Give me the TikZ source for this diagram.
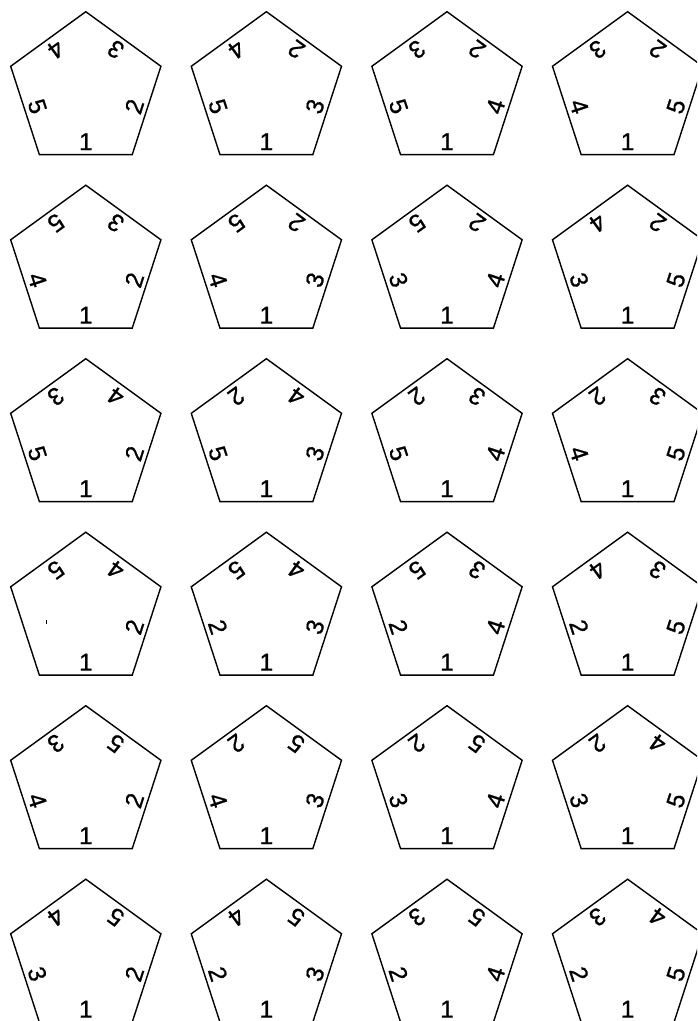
\documentclass[tikz,border=0pt]{standalone}
\usepackage{fontspec}
\setmainfont{Liberation Sans}
\newfontfamily\digfont[FakeBold=0.8]{Liberation Sans}
\begin{document}
\begin{tikzpicture}[x=1pt,y=1pt,
  edge/.style={line width=1.4pt, line join=miter},
  lab/.style={font=\digfont\fontsize{24.5}{28}\selectfont, inner sep=0pt}]
\useasboundingbox (0,0) rectangle (697,-1021);
\clip (0,0) rectangle (697,-1021);
\foreach \r/\c/\a/\b/\e/\f [count=\i] in {
  1/1/2/3/4/5, 1/2/3/2/4/5, 1/3/4/2/3/5, 1/4/5/2/3/4,
  2/1/2/3/5/4, 2/2/3/2/5/4, 2/3/4/2/5/3, 2/4/5/2/4/3,
  3/1/2/4/3/5, 3/2/3/4/2/5, 3/3/4/3/2/5, 3/4/5/3/2/4,
  4/1/2/4/5/{}, 4/2/3/4/5/2, 4/3/4/3/5/2, 4/4/5/3/4/2,
  5/1/2/5/3/4, 5/2/3/5/2/4, 5/3/4/5/2/3, 5/4/5/4/2/3,
  6/1/2/5/4/3, 6/2/3/5/4/2, 6/3/4/5/3/2, 6/4/5/4/3/2} {
  \coordinate (c\i) at ({85.8+180.6*(\c-1)},{-90.7-173.5*(\r-1)});
  \draw[edge] (c\i) +(90:79) -- +(18:79) -- +(-54:79) -- +(-126:79) -- +(162:79) -- cycle;
  \node[lab] (l\i a) at ([shift={(-90:51)}]c\i) {1};
  \node[lab, rotate=72] (l\i b) at ([shift={(-18:51)}]c\i) {\a};
  \node[lab, rotate=144] (l\i c) at ([shift={(54:51)}]c\i) {\b};
  \node[lab, rotate=216] (l\i d) at ([shift={(126:51)}]c\i) {\e};
  \node[lab, rotate=288] (l\i e) at ([shift={(198:51)}]c\i) {\f};
}
\coordinate (tick) at (46.6,-619.5);
\draw[line width=0.8pt] (tick) -- ++(0,-4);
\end{tikzpicture}
\end{document}
